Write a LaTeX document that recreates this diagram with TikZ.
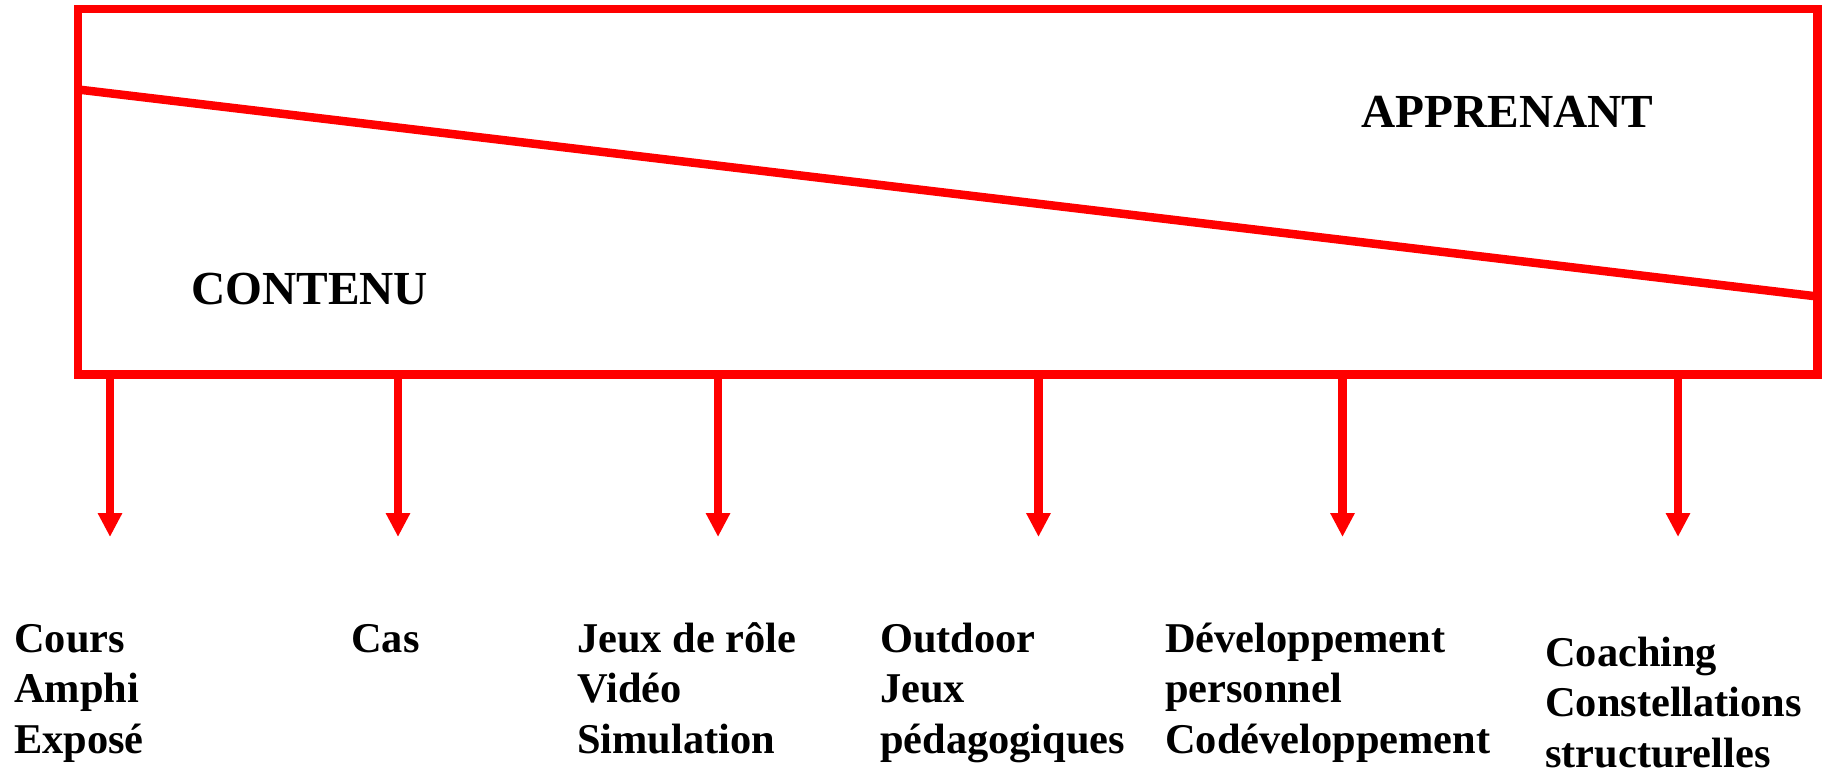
\documentclass[tikz,border=0pt]{standalone}
\usepackage{fontspec}
\setmainfont{Liberation Serif}
\usetikzlibrary{arrows.meta}
\tikzset{
  redline/.style={draw=red, line width=8.5pt},
  arr/.style={red, line width=8.4pt, -{Triangle[width=23pt,length=24pt]}},
  headtext/.style={font=\fontsize{47.4}{56}\selectfont\bfseries, inner sep=0pt, anchor=base west},
  itemtext/.style={font=\fontsize{42.4}{50.5}\selectfont\bfseries, inner sep=0pt, anchor=base west, align=left},
}
\begin{document}
\begin{tikzpicture}[x=1pt,y=-1pt]
  \useasboundingbox (0,0) rectangle (1825,775);
  % main frame
  \node[redline, minimum width=1739.5pt, minimum height=365.5pt, inner sep=0pt] (box) at (947.75,191.75) {};
  % dividing diagonal
  \coordinate (dl) at (78,89.5);
  \coordinate (dr) at (1817.5,296.5);
  \draw[red, line width=8.5pt] (dl) -- (dr);
  % labels inside the frame
  \node[headtext] (contenu) at (191,305) {CONTENU};
  \node[headtext] (apprenant) at (1361,128) {APPRENANT};
  % arrow ends
  \coordinate (e1) at (110,537);
  \coordinate (e2) at (398,537);
  \coordinate (e3) at (718,537);
  \coordinate (e4) at (1038.5,537);
  \coordinate (e5) at (1342.5,537);
  \coordinate (e6) at (1678,537);
  \foreach \i in {1,...,6} {
    \draw[arr] (box.south -| e\i) -- (e\i);
  }
  % methods (base anchor sits on the last line)
  \node[itemtext] (m1) at (14,753) {Cours\\Amphi\\Exposé};
  \node[itemtext] (m2) at (351,652) {Cas};
  \node[itemtext] (m3) at (577,753) {Jeux de rôle\\Vidéo\\Simulation};
  \node[itemtext] (m4) at (880,753) {Outdoor\\Jeux\\pédagogiques};
  \node[itemtext] (m5) at (1165,753) {Développement\\personnel\\Codéveloppement};
  \node[itemtext] (m6) at (1545,767) {Coaching\\Constellations\\structurelles};
\end{tikzpicture}
\end{document}
